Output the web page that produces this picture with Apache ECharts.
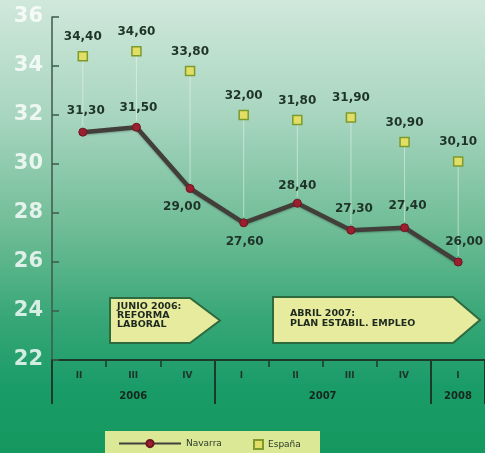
<!DOCTYPE html>
<html>
<head>
<meta charset="utf-8">
<script src="https://cdn.jsdelivr.net/npm/echarts@6/dist/echarts.min.js"></script>
<style>
  html, body { margin: 0; padding: 0; }
  #chart { width: 485px; height: 453px; }
</style>
</head>
<body>
<div id="chart"></div>
<script>
// Quarters shown on the time axis
const quarters = ['II', 'III', 'IV', 'I', 'II', 'III', 'IV', 'I'];
const quarterKeys = ['2006-II', '2006-III', '2006-IV', '2007-I', '2007-II', '2007-III', '2007-IV', '2008-I'];
// Years and how many quarters each one spans
const years = ['2006', '2007', '2008'];
const yearQuarterCounts = [3, 4, 1];
// Series values (%)
const navarra = [31.3, 31.5, 29.0, 27.6, 28.4, 27.3, 27.4, 26.0];
const espana = [34.4, 34.6, 33.8, 32.0, 31.8, 31.9, 30.9, 30.1];
// Value axis ticks
const yTicks = [22, 24, 26, 28, 30, 32, 34, 36];

const fmt = v => v.toFixed(2).replace('.', ',');

// Half-quarter slots used for the year axis (separators and centred year names)
const slotCount = quarters.length * 2 + 1;
const slots = Array.from({ length: slotCount }, (_, i) => 's' + i);
const yearBoundarySlots = [0];
const yearLabelSlots = {};
let acc = 0;
years.forEach((y, k) => {
  yearLabelSlots[acc + yearQuarterCounts[k]] = y;
  acc += yearQuarterCounts[k] * 2;
  yearBoundarySlots.push(acc);
});

// Where each Navarra value label sits relative to its point
const navLabelPlacement = [
  { position: 'top', distance: 11, offset: [3, 0] },
  { position: 'top', distance: 9, offset: [2, 0] },
  { position: 'bottom', distance: 6, offset: [-8, 2] },
  { position: 'bottom', distance: 9, offset: [1, 0] },
  { position: 'top', distance: 7, offset: [0, 0] },
  { position: 'top', distance: 11, offset: [3, 0] },
  { position: 'top', distance: 11, offset: [3, 0] },
  { position: 'top', distance: 10, offset: [6, 0] }
];

const darkText = '#1f3328';
const axisDark = '#1c3a2a';

const chart = echarts.init(document.getElementById('chart'));

chart.setOption({
  backgroundColor: {
    type: 'linear', x: 0, y: 0, x2: 0, y2: 1,
    colorStops: [
      { offset: 0, color: '#d0e8dc' },
      { offset: 0.25, color: '#a9d6c0' },
      { offset: 0.5, color: '#70bd97' },
      { offset: 0.7, color: '#38a777' },
      { offset: 0.85, color: '#1a9c68' },
      { offset: 1, color: '#15985f' }
    ]
  },
  animation: false,
  grid: [
    { left: 52, right: -1, top: 17, bottom: 93 },
    { left: 56, right: -5, top: 17, bottom: 93 }
  ],
  yAxis: [
    {
      gridIndex: 0, type: 'value', min: yTicks[0], max: yTicks[yTicks.length - 1], interval: 2,
      axisLine: { show: true, lineStyle: { color: '#3e5a4b', width: 1.5 } },
      axisTick: { show: true, inside: true, length: 7, lineStyle: { color: '#3e5a4b', width: 1.5 } },
      splitLine: { show: false },
      axisLabel: {
        margin: 9, color: 'rgba(255,255,255,0.8)',
        fontFamily: 'DejaVu Sans', fontWeight: 'bold', fontSize: 21
      }
    },
    { gridIndex: 1, type: 'value', min: yTicks[0], max: yTicks[yTicks.length - 1], show: false }
  ],
  xAxis: [
    {
      gridIndex: 0, type: 'category', data: quarters, boundaryGap: true,
      axisLine: { show: true, lineStyle: { color: axisDark, width: 2 } },
      axisTick: { show: true, length: 7, lineStyle: { color: axisDark, width: 1.5 } },
      axisLabel: {
        margin: 11, color: darkText, fontFamily: 'DejaVu Sans', fontWeight: 'bold', fontSize: 9
      }
    },
    { gridIndex: 1, type: 'category', data: quarterKeys, boundaryGap: true, show: false },
    {
      gridIndex: 0, type: 'category', data: slots, boundaryGap: false, position: 'bottom',
      axisLine: { show: false },
      axisTick: {
        show: true, length: 44,
        interval: idx => yearBoundarySlots.includes(idx),
        lineStyle: { color: axisDark, width: 2 }
      },
      axisLabel: {
        margin: 31, color: '#17261d', fontFamily: 'DejaVu Sans', fontWeight: 'bold', fontSize: 10,
        interval: idx => yearLabelSlots[idx] !== undefined,
        formatter: (v, idx) => yearLabelSlots[idx] || ''
      }
    }
  ],
  legend: [
    {
      data: ['Navarra'], left: 113, top: 434, itemWidth: 62, itemHeight: 9,
      textStyle: { color: '#2a3a2a', fontFamily: 'DejaVu Sans', fontSize: 9 }
    },
    {
      data: [{ name: 'España', icon: 'rect' }], left: 248, top: 434, itemWidth: 9, itemHeight: 9,
      textStyle: { color: '#2a3a2a', fontFamily: 'DejaVu Sans', fontSize: 9 }
    }
  ],
  graphic: [
    {
      type: 'rect', left: 105, top: 431, z: -1,
      shape: { width: 215, height: 25 },
      style: { fill: '#dbe896' }
    },
    {
      type: 'polygon', z: 5,
      shape: { points: [[110, 298], [190, 298], [220, 320.5], [190, 343], [110, 343]] },
      style: { fill: '#e6eb9e', stroke: '#2e6a3d', lineWidth: 2 }
    },
    {
      type: 'text', left: 117, top: 302, z: 6,
      style: {
        text: 'JUNIO 2006:\nREFORMA\nLABORAL', fill: '#1f2a1e',
        font: 'bold 9.5px "DejaVu Sans"', lineHeight: 9
      }
    },
    {
      type: 'polygon', z: 5,
      shape: { points: [[273, 297], [453, 297], [480, 320], [453, 343], [273, 343]] },
      style: { fill: '#e6eb9e', stroke: '#2e6a3d', lineWidth: 2 }
    },
    {
      type: 'text', left: 290, top: 309, z: 6,
      style: {
        text: 'ABRIL 2007:\nPLAN ESTABIL. EMPLEO', fill: '#1f2a1e',
        font: 'bold 9.5px "DejaVu Sans"', lineHeight: 10
      }
    }
  ],
  series: [
    {
      // thin guide lines from each España value down to the Navarra value
      type: 'custom', xAxisIndex: 1, yAxisIndex: 1, silent: true, z: 1,
      data: quarterKeys.map((k, i) => [i, espana[i], navarra[i]]),
      renderItem: (params, api) => {
        const top = api.coord([api.value(0), api.value(1)]);
        const bottom = api.coord([api.value(0), api.value(2)]);
        return {
          type: 'line',
          shape: { x1: top[0], y1: top[1] + 5, x2: bottom[0], y2: bottom[1] - 6 },
          style: { stroke: 'rgba(235,246,240,0.55)', lineWidth: 1 }
        };
      }
    },
    {
      name: 'Navarra', type: 'line', xAxisIndex: 1, yAxisIndex: 1, z: 3,
      data: navarra.map((v, i) => ({ value: v, label: navLabelPlacement[i] })),
      lineStyle: { color: '#423f3a', width: 4.5, shadowColor: 'rgba(0,0,0,0.25)', shadowBlur: 2, shadowOffsetY: 1 },
      itemStyle: { color: '#9a1f2f', borderColor: '#6e1420', borderWidth: 1 },
      symbol: 'circle', symbolSize: 8,
      label: {
        show: true, formatter: p => fmt(p.value), color: darkText,
        fontFamily: 'DejaVu Sans', fontWeight: 'bold', fontSize: 12
      }
    },
    {
      name: 'España', type: 'scatter', xAxisIndex: 1, yAxisIndex: 1, z: 3,
      data: espana,
      symbol: 'rect', symbolSize: 9,
      itemStyle: { color: '#e3df66', borderColor: '#7d9a2c', borderWidth: 1.5, opacity: 1 },
      label: {
        show: true, position: 'top', distance: 8, formatter: p => fmt(p.value), color: darkText,
        opacity: 1, fontFamily: 'DejaVu Sans', fontWeight: 'bold', fontSize: 12
      }
    }
  ]
});
</script>
</body>
</html>
